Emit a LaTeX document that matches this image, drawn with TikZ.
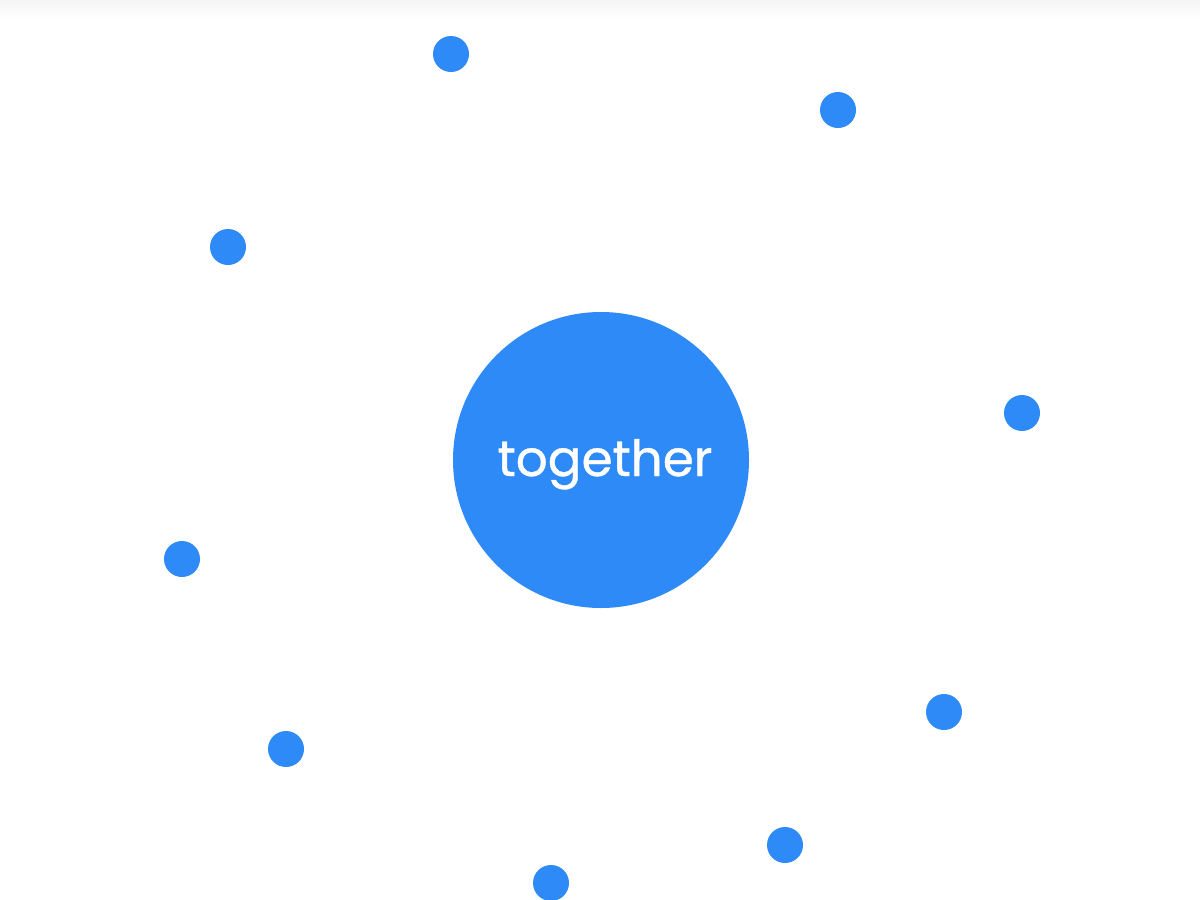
\documentclass[tikz,border=0pt]{standalone}
\usepackage{fontspec}
\setmainfont{Poppins}
\newfontfamily\hubfont{Poppins}[FakeBold=0.8]
\definecolor{dotblue}{HTML}{2D8AF7}
\begin{document}
\begin{tikzpicture}[x=0.5pt, y=-0.5pt, every node/.style={circle, fill=dotblue, inner sep=0pt}, dot/.style={minimum size=18pt}, hub/.style={minimum size=148pt}, word/.style={fill=none, text=white, font=\hubfont\fontsize{25}{28}\selectfont}]
		\useasboundingbox (0, 0) rectangle (1200, 900);
		\shade[top color=black!4, bottom color=white] (0, 0) rectangle (1200, 18);
		\node[hub] (0) at (601, 460) {};
		\node[word, anchor=base] (0t) at (605, 476) {together};

		\node[dot] (1) at (451, 54) {};
		\node[dot] (2) at (838, 110) {};
		\node[dot] (3) at (228, 247) {};
        \node[dot] (4) at (1022, 413) {};
        \node[dot] (5) at (182, 559) {};
        \node[dot] (6) at (944, 712) {};
        \node[dot] (7) at (286, 749) {};
        \node[dot] (8) at (785, 845) {};
        \node[dot] (9) at (551, 883) {};
	\end{tikzpicture}
\end{document}
